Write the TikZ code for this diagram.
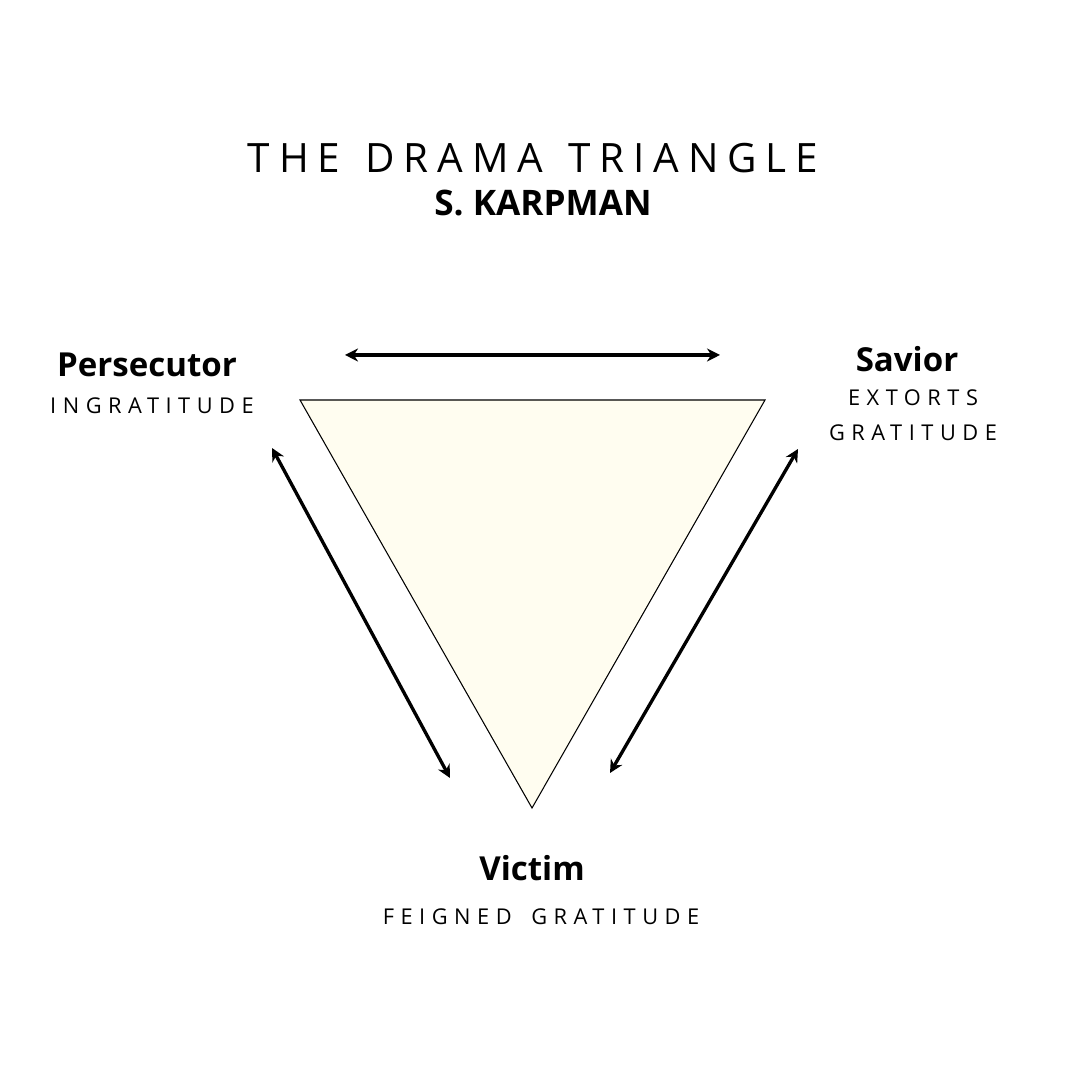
\documentclass[tikz,border=0pt]{standalone}
\usepackage{fontspec}
\setmainfont{Open Sans}
\newfontfamily\spacedfont[LetterSpace=22,WordSpace=1.3]{Open Sans}
\newfontfamily\roomyfont[LetterSpace=30,WordSpace=1.6]{Open Sans}
\usetikzlibrary{arrows.meta}
\definecolor{cream}{HTML}{FFFDF0}
\tikzset{role/.style={font=\bfseries\fontsize{9.4}{11}\selectfont,inner sep=0pt},
         trait/.style={font=\roomyfont\fontsize{6.2}{8}\selectfont,inner sep=0pt},
         swap/.style={{Stealth[length=1.3mm,width=1.3mm]}-{Stealth[length=1.3mm,width=1.3mm]},line width=0.95pt},
         }
\begin{document}
\begin{tikzpicture}
\useasboundingbox (0,0) rectangle (10.8,10.8);
\node[font=\spacedfont\fontsize{11.5}{13}\selectfont,inner sep=0pt] (title) at (5.33,9.22) {THE DRAMA TRIANGLE};
\node[font=\bfseries\fontsize{10}{12}\selectfont,inner sep=0pt] (author) at (5.43,8.77) {S. KARPMAN};
% triangle corners
\coordinate (pl) at (3.00,6.80);
\coordinate (pr) at (7.65,6.80);
\coordinate (pb) at (5.32,2.72);
\draw[fill=cream,line width=0.3pt] (pl) -- (pr) -- (pb) -- cycle;
% roles
\node[role] (persecutor) at (1.47,7.15) {Persecutor};
\node[trait] (ingratitude) at (1.52,6.74) {INGRATITUDE};
\node[role] (savior) at (9.07,7.21) {Savior};
\node[trait] (extorts) at (9.13,6.82) {EXTORTS};
\node[trait] (gratitude) at (9.13,6.47) {GRATITUDE};
\node[role] (victim) at (5.32,2.12) {Victim};
\node[trait] (feigned) at (5.41,1.63) {FEIGNED GRATITUDE};
% arrows
\coordinate (ta) at (3.45,7.25);
\coordinate (tb) at (7.20,7.25);
\coordinate (la) at (2.72,6.32);
\coordinate (lb) at (4.50,3.02);
\coordinate (ra) at (7.98,6.31);
\coordinate (rb) at (6.10,3.07);
\draw[swap] (ta) -- (tb);
\draw[swap] (la) -- (lb);
\draw[swap] (ra) -- (rb);
\end{tikzpicture}
\end{document}
